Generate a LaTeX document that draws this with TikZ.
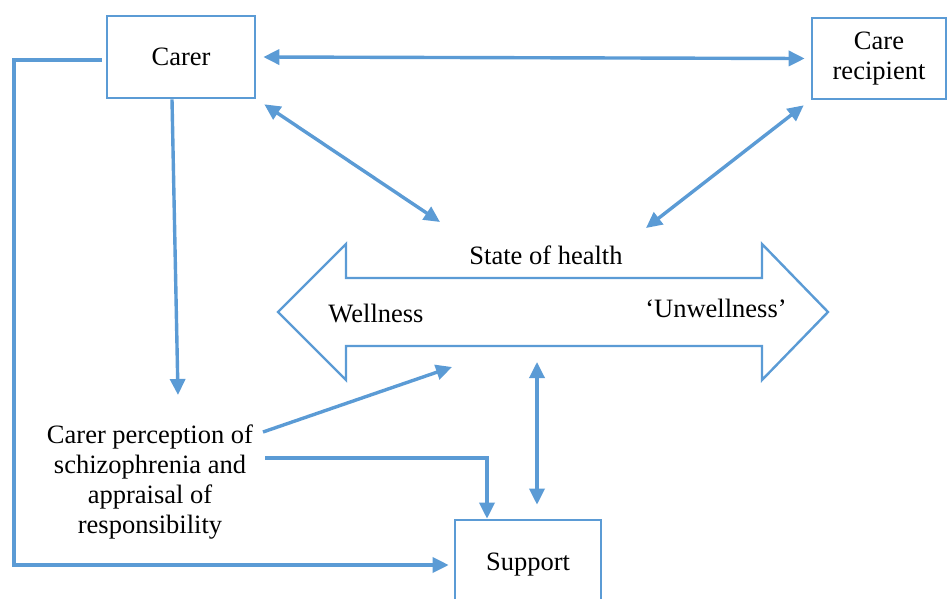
\documentclass[tikz,border=0pt]{standalone}
\usepackage{fontspec}
\setmainfont{Liberation Serif}
\usetikzlibrary{arrows.meta}
\definecolor{lineblue}{HTML}{5B9BD5}
\begin{document}
\begin{tikzpicture}[x=1pt,y=-1pt,
  every node/.style={font=\fontsize{26.5}{30}\selectfont, inner sep=0pt, align=center},
  box/.style={draw=lineblue, line width=2.6pt},
  link/.style={draw=lineblue, line width=3.4pt, -{Triangle[length=16pt,width=15pt]}},
  both/.style={link, {Triangle[length=16pt,width=15pt]}-{Triangle[length=16pt,width=15pt]}},
]
\useasboundingbox (0,0) rectangle (948,598);
\clip (0,0) rectangle (948,598);

% boxes
\node[box, minimum width=148pt, minimum height=82pt] (carer) at (181,57) {Carer};
\node[box, minimum width=134pt, minimum height=81pt] (rec) at (879,58.5) {Care\\recipient};
\node[box, minimum width=146pt, minimum height=90pt] (sup) at (528,565) {Support};

% free text
\node (perc) at (150,482) {Carer perception of\\schizophrenia and\\appraisal of\\responsibility};

% state of health double arrow
\draw[lineblue, line width=2.4pt, line join=miter]
  (278,312) -- (346,244) -- (346,278) -- (762,278) -- (762,244) -- (828,312)
  -- (762,380) -- (762,346) -- (346,346) -- (346,380) -- cycle;
\node (soh) at (546,255) {State of health};
\node (well) at (376,313) {Wellness};
\node (unwell) at (716,308) {‘Unwellness’};

% connector ends on the health arrow and beside the text
\coordinate (hA) at (440,222);
\coordinate (hB) at (646,228);
\coordinate (hC) at (452,367);
\coordinate (hD) at (537,362);
\coordinate (pTop) at (178,395);
\coordinate (pOut1) at (263,432);
\coordinate (pOut2) at (265,458);
\coordinate (corner) at (14,60);

% connectors
\draw[both] ([xshift=7pt]carer.east) -- ([xshift=-6pt]rec.west);
\draw[both] ([shift={(8,5)}]carer.south east) -- (hA);
\draw[both] ([shift={(-7,5)}]rec.south west) -- (hB);
\draw[link] ([xshift=-9pt]carer.south) -- (pTop);
\draw[link] (pOut1) -- (hC);
\draw[link] (pOut2) -| ([xshift=-41pt]sup.north);
\draw[both] (hD) -- ([yshift=14pt]sup.north -| hD);
\draw[link] ([shift={(-4,3)}]carer.west) -- (corner) |- ([xshift=-5pt]sup.west);
\end{tikzpicture}
\end{document}
